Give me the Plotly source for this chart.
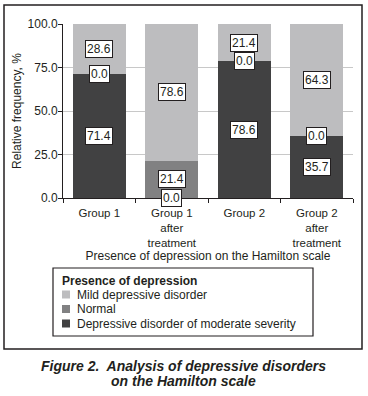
import plotly.graph_objects as go

categories = ["Group 1", "Group 1<br>after<br>treatment", "Group 2", "Group 2<br>after<br>treatment"]
moderate = [71.4, 0.0, 78.6, 35.7]
normal = [0.0, 21.4, 0.0, 0.0]
mild = [28.6, 78.6, 21.4, 64.3]
y_ticks = [0, 25, 50, 75, 100]

series = [
    ("Depressive disorder of moderate severity", moderate, "#414142"),
    ("Normal", normal, "#818182"),
    ("Mild depressive disorder", mild, "#bdbdbf"),
]
legend_title = "Presence of depression"

FONT = "Liberation Sans, Arial, sans-serif"
TXT = "#231f20"

fig = go.Figure()
for name, vals, col in series:
    fig.add_trace(go.Bar(x=categories, y=vals, name=name, showlegend=False,
                         marker=dict(color=col, line=dict(width=0))))

# value labels at segment centres
base = [0.0] * len(categories)
for name, vals, col in series:
    for i, v in enumerate(vals):
        fig.add_annotation(x=categories[i], y=base[i] + v / 2, text=f"{v:.1f}",
                           showarrow=False, xref="x", yref="y",
                           font=dict(family=FONT, size=12, color=TXT),
                           bgcolor="white", bordercolor=TXT, borderwidth=1, borderpad=1)
        base[i] += v

L, R, T, B = 63, 15, 24, 198
W, H = 368, 396
pw, ph = W - L - R, H - T - B

def px2paper(xp, yp):
    return (xp - L) / pw, (H - B - yp) / ph

# outer frame
x0, y0 = px2paper(4, 5)
x1, y1 = px2paper(362, 349)
fig.add_shape(type="rect", xref="paper", yref="paper", x0=x0, y0=y1, x1=x1, y1=y0,
              line=dict(color=TXT, width=1.5), layer="below")

# legend box (drawn to match the figure's compact legend)
lx0, ly0 = px2paper(53, 268)
lx1, ly1 = px2paper(313, 336)
fig.add_shape(type="rect", xref="paper", yref="paper", x0=lx0, y0=ly1, x1=lx1, y1=ly0,
              line=dict(color=TXT, width=1.2), fillcolor="white")
tx, ty = px2paper(60, 281)
fig.add_annotation(x=tx, y=ty, xref="paper", yref="paper", showarrow=False,
                   xanchor="left", yanchor="middle", text=f"<b>{legend_title}</b>",
                   font=dict(family=FONT, size=12, color=TXT))
item_y = [294.5, 309, 323.5]
for (name, vals, col), iy in zip(reversed(series), item_y):
    sx0, sy0 = px2paper(62, iy - 4)
    sx1, sy1 = px2paper(70, iy + 4)
    fig.add_shape(type="rect", xref="paper", yref="paper", x0=sx0, y0=sy1, x1=sx1, y1=sy0,
                  line=dict(width=0), fillcolor=col)
    ax, ay = px2paper(75, iy)
    fig.add_annotation(x=ax, y=ay, xref="paper", yref="paper", showarrow=False,
                       xanchor="left", yanchor="middle", text=name,
                       font=dict(family=FONT, size=12, color=TXT))

# caption
cx, cy1 = px2paper(183, 366)
_, cy2 = px2paper(183, 381)
fig.add_annotation(x=cx, y=cy1, xref="paper", yref="paper", showarrow=False, yanchor="middle",
                   text="<b><i>Figure 2.  Analysis of depressive disorders</i></b>",
                   font=dict(family=FONT, size=14, color=TXT))
fig.add_annotation(x=cx, y=cy2, xref="paper", yref="paper", showarrow=False, yanchor="middle",
                   text="<b><i>on the Hamilton scale</i></b>",
                   font=dict(family=FONT, size=14, color=TXT))

fig.update_layout(
    width=W, height=H,
    margin=dict(l=L, r=R, t=T, b=B),
    barmode="stack", bargap=0.27,
    paper_bgcolor="white", plot_bgcolor="white",
    font=dict(family=FONT, size=12, color=TXT),
    showlegend=False,
    xaxis=dict(type="category", showline=True, linecolor=TXT, linewidth=1,
               ticks="outside", ticklen=4, tickcolor=TXT, tickson="boundaries",
               ticklabelstandoff=4, tickfont=dict(size=11.5),
               title=dict(text="Presence of depression on the Hamilton scale", standoff=0,
                          font=dict(size=12)),
               automargin=False),
    yaxis=dict(range=[0, 100], tickvals=y_ticks, tickformat=".1f",
               showline=True, linecolor=TXT, linewidth=1,
               ticks="outside", ticklen=4, tickcolor=TXT, ticklabelstandoff=-2,
               showgrid=True, gridcolor="#c8c8c8", gridwidth=1, zeroline=False,
               title=dict(text="Relative frequency, %", standoff=3, font=dict(size=12)),
               automargin=False),
)

fig.write_html("out.html", post_script="document.body.style.margin='0';",
               config={"displayModeBar": False})
